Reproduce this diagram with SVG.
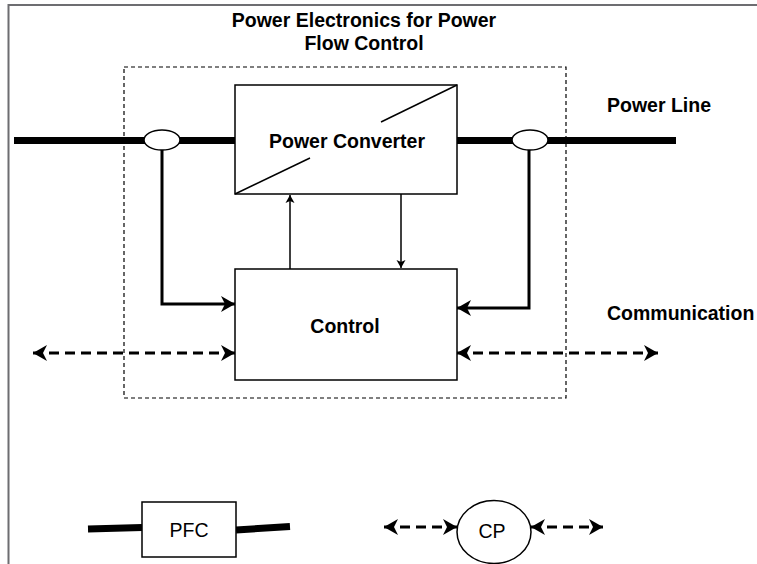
<svg xmlns="http://www.w3.org/2000/svg" width="757" height="564" viewBox="0 0 757 564">
<defs>
<style>
.frame{stroke:#6d6d71;stroke-width:2;fill:none}
.box{fill:#fff;stroke:#000;stroke-width:1.5}
.bnd{fill:none;stroke:#000;stroke-width:1.2;stroke-dasharray:4 3}
.pl{stroke:#000;stroke-width:7;fill:none}
.fb{stroke:#000;stroke-width:3;fill:none;stroke-linejoin:miter}
.thin{stroke:#000;stroke-width:1.5;fill:none}
.com{stroke:#000;stroke-width:3;fill:none;stroke-dasharray:10 6}
.tb{font-family:"Liberation Sans",Arial,Helvetica,sans-serif;font-weight:bold;font-size:19.5px;fill:#000}
.tr{font-family:"Liberation Sans",Arial,Helvetica,sans-serif;font-size:19.5px;fill:#000}
.mid{text-anchor:middle}
</style>
<marker id="big" markerUnits="userSpaceOnUse" viewBox="-1 -9 16 18" refX="14" refY="0" markerWidth="16" markerHeight="18" orient="auto-start-reverse">
<path d="M0,-8 L14,0 L0,8 L4,0 Z" fill="#000"/>
</marker>
<marker id="sm" markerUnits="userSpaceOnUse" viewBox="-1 -6 10 12" refX="8" refY="0" markerWidth="10" markerHeight="12" orient="auto-start-reverse">
<path d="M0,-4.5 L8,0 L0,4.5 L2,0 Z" fill="#000"/>
</marker>
</defs>
<g id="frame">
<path class="frame" d="M8.5,564 L8.5,5 L757,5"/>
</g>
<g id="title">
<text class="tb mid" x="364" y="27">Power Electronics for Power</text>
<text class="tb mid" x="364" y="50">Flow Control</text>
</g>
<g id="boundary">
<rect class="bnd" x="124" y="67" width="442" height="331"/>
</g>
<g id="power-line">
<line class="pl" x1="14" y1="140.5" x2="676" y2="140.5"/>
<text class="tb" x="607" y="112">Power Line</text>
</g>
<g id="connectors">
<path class="fb" d="M162,150 L162,304 L235,304" marker-end="url(#big)"/>
<path class="fb" d="M529,150 L529,308 L457,308" marker-end="url(#big)"/>
<path class="thin" d="M290,269 L290,195" marker-end="url(#sm)"/>
<path class="thin" d="M401,194 L401,268" marker-end="url(#sm)"/>
<line class="com" x1="33" y1="353" x2="235" y2="353" marker-start="url(#big)" marker-end="url(#big)"/>
<line class="com" x1="457" y1="353" x2="658" y2="353" marker-start="url(#big)" marker-end="url(#big)"/>
</g>
<g id="sensor-left">
<ellipse cx="162" cy="140" rx="18" ry="10" fill="#fff" stroke="#000" stroke-width="1.5"/>
</g>
<g id="sensor-right">
<ellipse cx="530" cy="140" rx="18" ry="10" fill="#fff" stroke="#000" stroke-width="1.5"/>
</g>
<g id="power-converter">
<rect class="box" x="235" y="85" width="222" height="109"/>
<line class="thin" x1="235" y1="194" x2="310" y2="158"/>
<line class="thin" x1="381" y1="122" x2="457" y2="85"/>
<text class="tb mid" x="347" y="148">Power Converter</text>
</g>
<g id="control">
<rect class="box" x="235" y="269" width="222" height="111"/>
<text class="tb mid" x="345" y="333">Control</text>
</g>
<g id="communication-label">
<text class="tb" x="607" y="320">Communication</text>
</g>
<g id="legend-pfc">
<path class="pl" d="M88,529 L142,527.5"/>
<path class="pl" d="M236,530 L290,526.5"/>
<rect class="box" x="142" y="502" width="94" height="55"/>
<text class="tr mid" x="189" y="537">PFC</text>
</g>
<g id="legend-cp">
<line class="com" x1="384" y1="527" x2="457" y2="527" marker-start="url(#big)" marker-end="url(#big)"/>
<line class="com" x1="531" y1="527" x2="603" y2="527" marker-start="url(#big)" marker-end="url(#big)"/>
<ellipse cx="494" cy="532" rx="37" ry="31.5" fill="#fff" stroke="#000" stroke-width="1.5"/>
<text class="tr mid" x="492" y="538">CP</text>
</g>
</svg>
